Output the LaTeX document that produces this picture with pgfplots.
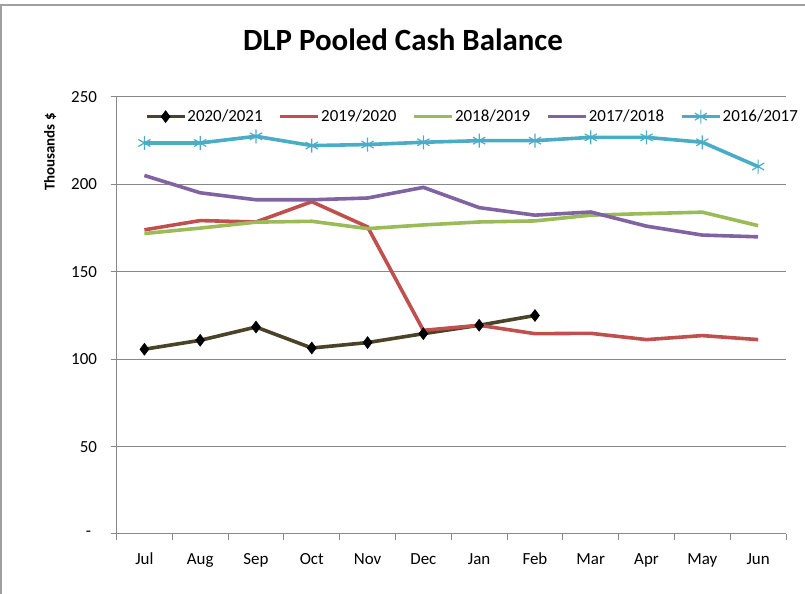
\documentclass[border=0pt]{standalone}
\usepackage{fontspec}
\setmainfont{Carlito}
\usepackage{pgfplots}
\pgfplotsset{compat=1.18}
\definecolor{cblack}{HTML}{494429}
\definecolor{cred}{HTML}{C0504D}
\definecolor{cgreen}{HTML}{9BBB59}
\definecolor{cpurple}{HTML}{8064A2}
\definecolor{ccyan}{HTML}{4BACC6}
\definecolor{cgrid}{HTML}{888888}
\begin{document}
\begin{tikzpicture}[x=1bp,y=1bp]
\path[use as bounding box] (0,0) rectangle (805,594);
\draw[cgrid!80, line width=1.5bp] (1,0) -- (1,589) -- (805,589);
\node[font=\fontsize{31}{37}\selectfont\bfseries] at (403,554) {DLP Pooled Cash Balance};
\begin{axis}[
  at={(116.5bp,60bp)}, anchor=south west,
  scale only axis, width=669.5bp, height=437bp,
  xmin=-0.5, xmax=11.5, ymin=0, ymax=250,
  axis lines=left, axis line style={-, cgrid, line width=1bp},
  ytick={0,50,100,150,200,250},
  yticklabels={-\hspace*{6bp},50,100,150,200,250},
  ymajorgrids, grid style={cgrid, line width=1bp},
  xtick={0,...,11},
  xticklabels={Jul,Aug,Sep,Oct,Nov,Dec,Jan,Feb,Mar,Apr,May,Jun},
  minor xtick={-0.5,0.5,...,11.5},
  major x tick style={draw=none},
  tick align=outside, major tick length=6bp, minor tick length=6bp,
  tick style={cgrid, line width=1bp},
  tick label style={font=\fontsize{17}{20}\selectfont},
  yticklabel style={xshift=-10bp},
  xticklabel style={yshift=-9bp, text height=12bp, text depth=4bp},
  ylabel={Thousands \$},
  ylabel style={font=\fontsize{15}{18}\selectfont\bfseries, at={(axis description cs:-0.099,0.874)}, anchor=center},
  legend columns=5,
  legend style={draw=none, fill=none, inner sep=0pt, at={(rel axis cs:0.042,0.955)}, anchor=west,
    font=\fontsize{17}{20}\selectfont,
    /tikz/every odd column/.append style={column sep=0bp},
    /tikz/every even column/.append style={column sep=15bp},
    nodes={inner sep=1bp}},
  legend image code/.code={\draw[mark repeat=2,mark phase=2,#1] plot coordinates {(0bp,0bp) (19bp,0bp) (38bp,0bp)};},
  every axis plot/.append style={line width=3.6bp},
  clip=false,
]
\addplot[cblack, mark=diamond*, mark size=6bp, mark options={fill=black, draw=black, line width=0.5bp}]
  coordinates {(0,105.7)(1,110.8)(2,118.4)(3,106.4)(4,109.5)(5,114.6)(6,119.4)(7,125)};
\addlegendentry{2020/2021}
\addplot[cred, no marks]
  coordinates {(0,174)(1,179.3)(2,178.5)(3,190.1)(4,175.7)(5,116.5)(6,119.4)(7,114.6)(8,114.8)(9,111.2)(10,113.5)(11,111.2)};
\addlegendentry{2019/2020}
\addplot[cgreen, no marks]
  coordinates {(0,171.9)(1,175)(2,178.4)(3,178.9)(4,174.7)(5,176.8)(6,178.5)(7,179.1)(8,182.4)(9,183.3)(10,184.1)(11,176.4)};
\addlegendentry{2018/2019}
\addplot[cpurple, no marks]
  coordinates {(0,205.1)(1,195.2)(2,191.2)(3,191.2)(4,192.2)(5,198.3)(6,186.7)(7,182.4)(8,184.2)(9,176.1)(10,171)(11,170)};
\addlegendentry{2017/2018}
\addplot[ccyan, mark=asterisk, mark size=7bp, mark options={line width=1.2bp}]
  coordinates {(0,223.7)(1,223.7)(2,227.5)(3,222.2)(4,222.8)(5,224.1)(6,225)(7,225)(8,226.9)(9,226.9)(10,224.1)(11,210.2)};
\addlegendentry{2016/2017}
\end{axis}
\end{tikzpicture}
\end{document}
